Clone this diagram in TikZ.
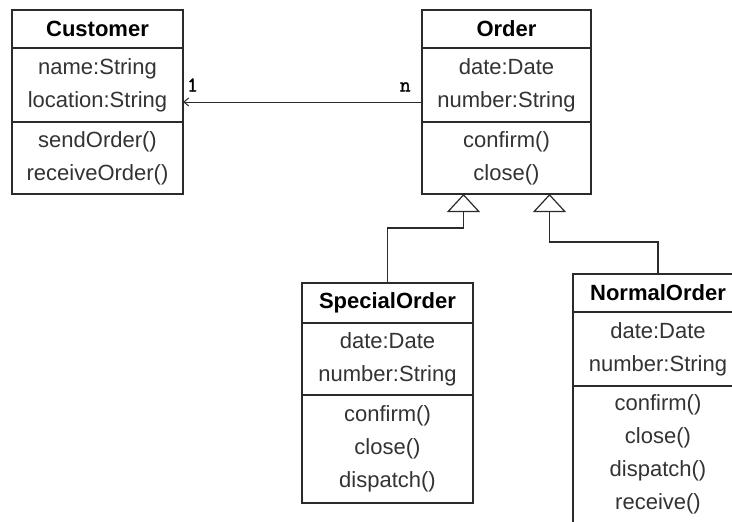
\documentclass[tikz,border=0pt]{standalone}
\usepackage{fontspec}
\setmainfont{Liberation Sans}
\newfontfamily\multfont[FakeBold=1.6]{Latin Modern Mono}
\usetikzlibrary{positioning,arrows.meta}

\definecolor{linegray}{HTML}{2B2B2B}
\definecolor{textgray}{HTML}{333333}

\tikzset{
	cls/.style={draw=linegray, line width=1.2pt, inner sep=0pt, outer sep=0pt,
		minimum width=170pt, align=center, text=textgray,
		font=\fontsize{22}{33}\selectfont},
	clsname/.style={cls, minimum height=38pt, text=black,
		font=\fontsize{22}{26}\selectfont\bfseries},
	inherit/.style={draw=linegray, line width=1.2pt,
		-{Triangle[open, length=18pt, width=33pt]}},
	assoc/.style={draw=linegray, line width=1pt,
		-{Straight Barb[length=5pt, width=8pt]}},
	mult/.style={inner sep=0pt, above=10pt, text=black,
		font=\multfont\fontsize{21}{21}\selectfont}
}

\begin{document}
	\begin{tikzpicture}[x=1pt, y=-1pt]
		\useasboundingbox (0,0) rectangle (732,522);
		\clip (0,0) rectangle (732,522);
		\fill[white] (0,0) rectangle (732,522);

		% Customer
		\node[clsname, minimum width=171pt] (cust) at (97.5,29) {Customer};
		\node[cls, minimum width=171pt, minimum height=74pt, below=0pt of cust] (cust-a) {name:String\\location:String};
		\node[cls, minimum width=171pt, minimum height=72pt, below=0pt of cust-a] (cust-m) {sendOrder()\\receiveOrder()};

		% Order
		\node[clsname, minimum width=169pt] (ord) at (506.5,29) {Order};
		\node[cls, minimum width=169pt, minimum height=74pt, below=0pt of ord] (ord-a) {date:Date\\number:String};
		\node[cls, minimum width=169pt, minimum height=72pt, below=0pt of ord-a] (ord-m) {confirm()\\close()};

		% SpecialOrder
		\node[clsname, minimum width=171pt, minimum height=40pt] (spec) at (387.5,303) {SpecialOrder};
		\node[cls, minimum width=171pt, minimum height=72pt, below=0pt of spec] (spec-a) {date:Date\\number:String};
		\node[cls, minimum width=171pt, minimum height=108pt, below=0pt of spec-a] (spec-m) {confirm()\\close()\\dispatch()};

		% NormalOrder (runs off the page)
		\node[clsname] (norm) at (658,293) {NormalOrder};
		\node[cls, minimum height=74pt, below=0pt of norm] (norm-a) {date:Date\\number:String};
		\node[cls, inner ysep=9pt, text depth=40pt, below=0pt of norm-a] (norm-m) {confirm()\\close()\\dispatch()\\receive()};

		% association
		\draw[assoc] ([yshift=-17pt]ord-a.west) -- ([yshift=-17pt]cust-a.east)
			node[mult, pos=0.07] {n} node[mult, pos=0.96] {1};

		% generalizations
		\coordinate (g1) at ([xshift=-43pt]ord-m.south);
		\coordinate (g2) at ([xshift=43pt]ord-m.south);
		\draw[inherit] (spec.north) -- ++(0,-55) -| (g1);
		\draw[inherit] (norm.north) -- ++(0,-32) -| (g2);
	\end{tikzpicture}
\end{document}
